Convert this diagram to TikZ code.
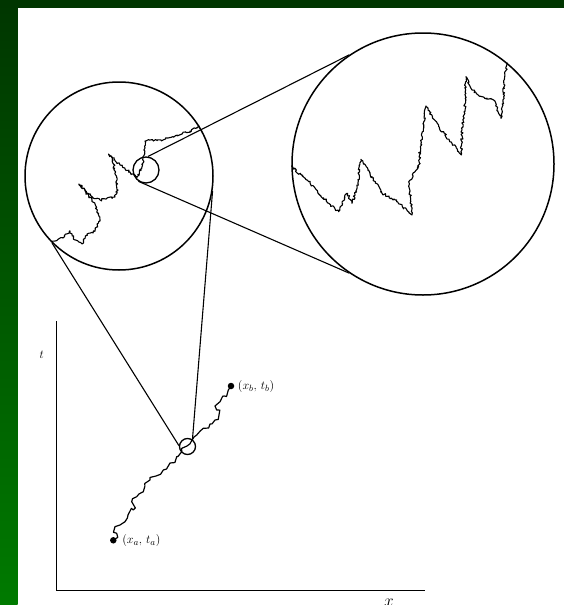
\documentclass[tikz,border=0pt]{standalone}
\usetikzlibrary{decorations.pathmorphing}
\definecolor{framedark}{RGB}{0,54,0}
\definecolor{framelight}{RGB}{0,122,0}
\begin{document}
\begin{tikzpicture}[x=1pt,y=-1pt,
    lens/.style={draw, circle, line width=1.5pt, inner sep=0pt},
    ray/.style={line width=1.1pt},
    walk/.style={line width=1.1pt, line join=round, decorate,
      decoration={random steps, segment length=1.4pt, amplitude=1.2pt}},
    coarse/.style={walk, line width=1.2pt, decoration={random steps, segment length=4pt, amplitude=3.2pt}},
    endpt/.style={circle, fill, inner sep=0pt, minimum size=6.5pt},
    lbl/.style={font=\fontsize{13}{15}\selectfont}]
  \pgfmathsetseed{11}
  \useasboundingbox (0,0) rectangle (564,605);
  \shade [top color=framedark, bottom color=framelight] (0,0) rectangle (17.5,605);
  \fill [framedark] (0,0) rectangle (564,7.5);
  \fill [white] (17.5,7.5) rectangle (564,605);

  \node [lens, minimum size=188pt] (mid) at (119,176) {};
  \node [lens, minimum size=262pt] (big) at (423,164) {};
  \node [lens, line width=1.3pt, minimum size=26pt] (zoomA) at (146,170) {};
  \node [lens, line width=1.3pt, minimum size=16pt] (zoomB) at (187.5,446.5) {};

  \draw [ray] (zoomA.82) -- (big.124);
  \draw [ray] (zoomA.236) -- (big.236);
  \draw [ray] (mid.225) -- (zoomB.174);
  \draw [ray] (mid.351) -- (zoomB.55);

  \draw [walk] (mid.224) -- (63,238) -- (70,231) -- (75,240) -- (82,244) -- (87,234)
    -- (93,233) -- (100,221) -- (96,208) -- (92,200) -- (79,184) -- (93,198)
    -- (100,200) -- (107,198) -- (115,197) -- (118,190) -- (115,173) -- (113,160)
    -- (108.5,154) -- (120,165) -- (130,172) -- (137,178) -- (143,163) -- (145,148)
    -- (145,141) -- (150,140) -- (163,140) -- (177,135) -- (190,131) -- (mid.32);

  \draw [walk] (big.181) -- (308.7,181.7) -- (328.7,203.3) -- (338.7,211.7) -- (347,193.3)
    -- (352,203.3) -- (357,188.3) -- (361,159.3) -- (372,176.7) -- (382,193.3)
    -- (395.3,200) -- (412,215) -- (408.7,181.7) -- (418.7,166.7) -- (420.3,146.7)
    -- (426,106) -- (438.7,126.7) -- (452,143.3) -- (461.3,155) -- (462,130)
    -- (465.3,103.3) -- (466,76.7) -- (472,90) -- (482,96.7) -- (493.7,100)
    -- (501,118.3) -- (503.7,96.7) -- (504.7,76.7) -- (big.50);

  \coordinate (origin) at (56.7,590.5);
  \coordinate (ttop) at (56.7,321);
  \coordinate (xend) at (425,590.5);
  \draw [line width=1.3pt] (ttop) -- (origin) -- (xend);
  \node [lbl] (tlab) at (41.7,355) {$t$};
  \node [font=\fontsize{17}{19}\selectfont, inner sep=0pt, anchor=north] (xlab) at (389,599) {$x$};

  \node [endpt] (a) at (113.3,540.3) {};
  \node [endpt] (b) at (231,386) {};
  \node [lbl, anchor=west, xshift=2pt] (alab) at (a.east) {$(x_a,\,t_a)$};
  \node [lbl, anchor=west] (blab) at (b.east) {$(x_b,\,t_b)$};

  \draw [coarse] (a.center) -- (116.7,533.3) -- (115,526.7) -- (120,525) -- (125,521.7)
    -- (128,515) -- (133.3,510) -- (131.7,501.7) -- (136.7,496.7) -- (143.3,491.7)
    -- (150,480) -- (156,476) -- (163.3,470) -- (170,463) -- (176.7,456.7)
    -- (181.7,451.7) -- (187,446) -- (192,440) -- (196.7,435) -- (203.3,428.3)
    -- (210,424) -- (215,420) -- (216.7,410) -- (220,401.7) -- (224,396)
    -- (228.3,390) -- (b.center);
\end{tikzpicture}
\end{document}
